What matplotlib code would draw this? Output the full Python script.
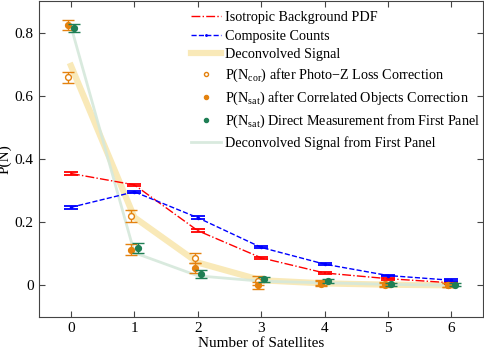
import matplotlib
matplotlib.use("Agg")
import matplotlib.pyplot as plt
import numpy as np

plt.rcParams['font.family'] = ['Liberation Serif', 'DejaVu Serif']
plt.rcParams['mathtext.fontset'] = 'custom'
plt.rcParams['mathtext.rm'] = 'Liberation Serif'
plt.rcParams['mathtext.it'] = 'Liberation Serif:italic'

n_sat = [0, 1, 2, 3, 4, 5, 6]
iso_bg = [0.354, 0.318, 0.173, 0.087, 0.039, 0.021, 0.008]
iso_err = [0.004, 0.004, 0.004, 0.003, 0.003, 0.003, 0.003]
composite = [0.247, 0.296, 0.214, 0.120, 0.067, 0.031, 0.016]
comp_err = [0.004, 0.004, 0.004, 0.003, 0.003, 0.003, 0.003]
deconv = [0.695, 0.215, 0.072, 0.016, 0.006, 0.002, 0.000]
p_cor = [0.658, 0.220, 0.087, 0.015, 0.008, 0.003, 0.002]
p_cor_err = [0.016, 0.018, 0.016, 0.015, 0.008, 0.006, 0.006]
p_sat = [0.824, 0.113, 0.055, 0.000, 0.005, 0.002, 0.000]
p_sat_err = [0.015, 0.017, 0.015, 0.012, 0.008, 0.006, 0.006]
p_direct = [0.814, 0.118, 0.036, 0.019, 0.013, 0.003, 0.002]
p_direct_err = [0.013, 0.016, 0.012, 0.008, 0.006, 0.005, 0.005]
deconv_first = [0.82, 0.103, 0.030, 0.013, 0.008, 0.003, 0.000]

orange = '#e4820f'
green = '#1f7f55'

fig = plt.figure(figsize=(4.85, 3.49), dpi=100)
ax = fig.add_axes([0.081, 0.092, 0.915, 0.905])

x = np.array(n_sat, dtype=float)

ax.errorbar(x, iso_bg, yerr=iso_err, color='red', ls='none', capsize=4.7, elinewidth=1.2, capthick=1.3)
l1, = ax.plot(x, iso_bg, color='red', ls='-.', lw=1, label='Isotropic Background PDF')
ax.errorbar(x, composite, yerr=comp_err, color='blue', ls='none', capsize=4.7, elinewidth=1.2, capthick=1.3)
l2, = ax.plot(x, composite, color='blue', ls='--', lw=1, marker='.', ms=3, label='Composite Counts')
l3, = ax.plot(x, deconv, color='#f7e2a0', lw=4.5, alpha=0.75, label='Deconvolved Signal', zorder=1)
l7, = ax.plot(x, deconv_first, color='#d5e8db', lw=2, alpha=0.9, label='Deconvolved Signal from First Panel', zorder=1)

ax.errorbar(x - 0.05, p_cor, yerr=p_cor_err, color=orange, ls='none', capsize=4.5, elinewidth=1, capthick=1)
l4, = ax.plot(x - 0.05, p_cor, ls='none', marker='o', ms=4.2, mfc='white', mec=orange, mew=1,
              label='P(N$_{\\mathrm{cor}}$) after Photo\u2212Z Loss Correction')
ax.errorbar(x - 0.05, p_sat, yerr=p_sat_err, color=orange, ls='none', capsize=4.5, elinewidth=1, capthick=1)
l5, = ax.plot(x - 0.05, p_sat, ls='none', marker='o', ms=4.2, color=orange,
              label='P(N$_{\\mathrm{sat}}$) after Correlated Objects Correction')
ax.errorbar(x + 0.05, p_direct, yerr=p_direct_err, color=green, ls='none', capsize=4.5, elinewidth=1, capthick=1)
l6, = ax.plot(x + 0.05, p_direct, ls='none', marker='o', ms=4.2, color=green,
              label='P(N$_{\\mathrm{sat}}$) Direct Measurement from First Panel')

ax.set_xlim(-0.5, 6.5)
ax.set_ylim(-0.1, 0.9)
ax.set_xticks(n_sat)
ax.set_yticks([0, 0.2, 0.4, 0.6, 0.8])
ax.set_yticklabels(['0', '0.2', '0.4', '0.6', '0.8'])
ax.tick_params(direction='in', top=True, right=True, length=4, labelsize=11, color='#444444', pad=4)
for s in ax.spines.values():
    s.set_color('#444444')
ax.set_xlabel('Number of Satellites', fontsize=11, labelpad=1)
ax.set_ylabel('P(N)', fontsize=11, labelpad=2)

leg = ax.legend(handles=[l1, l2, l3, l4, l5, l6, l7], loc='upper right', frameon=False,
                fontsize=10.2, handlelength=2.1, handletextpad=0.3, labelspacing=0.4,
                bbox_to_anchor=(1.016, 1.0), borderaxespad=0.3, markerscale=0.7)

fig.savefig('out.png', dpi=100)
